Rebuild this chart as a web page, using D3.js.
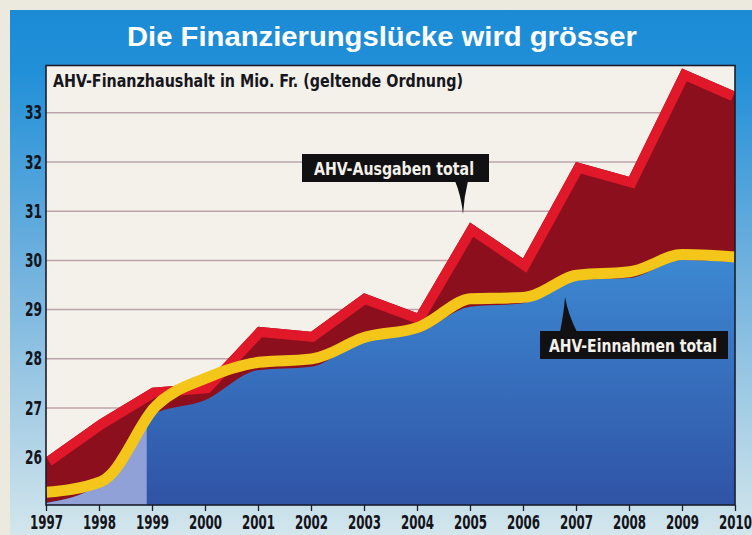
<!DOCTYPE html>
<html lang="de">
<head>
<meta charset="utf-8">
<title>Die Finanzierungslücke wird grösser</title>
<script src="https://cdn.jsdelivr.net/npm/d3@7"></script>
<style>
  html, body { margin: 0; padding: 0; background: #ece9df; }
  #chart { width: 752px; height: 535px; }
</style>
</head>
<body>
<div id="chart"></div>
<script>
// Jahre der x-Achse
const jahre = [1997, 1998, 1999, 2000, 2001, 2002, 2003, 2004, 2005, 2006, 2007, 2008, 2009, 2010];
// AHV-Ausgaben total (Oberkante rotes Band)
const ausgaben = [26.0, 26.76, 27.41, 27.5, 28.65, 28.55, 29.33, 28.93, 30.77, 30.04, 32.0, 31.7, 33.9, 33.43];
// AHV-Einnahmen total (Oberkante gelbes Band)
const einnahmen = [25.4, 25.61, 27.12, 27.72, 28.04, 28.11, 28.55, 28.75, 29.33, 29.36, 29.81, 29.88, 30.23, 30.18];
// Blaue Fläche unter dem gelben Band
const einnahmenFlaeche = [25.07, 25.44, 26.86, 27.16, 27.77, 27.84, 28.38, 28.52, 29.06, 29.13, 29.6, 29.64, 30.01, 29.97];
// hellere Fläche bis kurz vor 1999
const hellBisJahr = 1998.9;
// Beschriftungen der y-Achse
const yTicks = [26, 27, 28, 29, 30, 31, 32, 33];

const titel = "Die Finanzierungslücke wird grösser";
const untertitel = "AHV-Finanzhaushalt in Mio. Fr. (geltende Ordnung)";

const NARROW = '"Liberation Sans Narrow", "Arial Narrow", "DejaVu Sans Condensed", sans-serif';

const width = 752, height = 535;
const plot = { left: 46, right: 735, top: 65.5, bottom: 505 };

const svg = d3.select("#chart").append("svg")
    .attr("width", width)
    .attr("height", height);

const defs = svg.append("defs");

/**
 * Legt einen vertikalen Verlauf an.
 */
function verlauf(id, y1, y2, stops) {
    const g = defs.append("linearGradient")
        .attr("id", id)
        .attr("gradientUnits", "userSpaceOnUse")
        .attr("x1", 0).attr("x2", 0)
        .attr("y1", y1).attr("y2", y2);
    stops.forEach(s => g.append("stop").attr("offset", s[0]).attr("stop-color", s[1]));
}

verlauf("rahmen", 10, 535, [[0, "#1b8bd6"], [0.12, "#2290d8"], [0.5, "#72b2de"], [1, "#d3e6ec"]]);
verlauf("blau", 250, 505, [[0, "#3d8ad3"], [1, "#3053a6"]]);

const x = d3.scaleLinear([1997, 2010], [plot.left, plot.right]);
const y = d3.scaleLinear([25, 34], [506.5, 63.5]);

// Pfadgeneratoren
const linieAusgaben = d3.line().x((d, i) => x(jahre[i])).y(d => y(d));
const flaecheAusgaben = d3.area().x((d, i) => x(jahre[i])).y0(plot.bottom + 5).y1(d => y(d));
const linieEinnahmen = d3.line().curve(d3.curveMonotoneX).x((d, i) => x(jahre[i])).y(d => y(d));
const flaecheEinnahmen = d3.area().curve(d3.curveMonotoneX).x((d, i) => x(jahre[i])).y0(plot.bottom + 5).y1(d => y(d));

function clip(id, pfad) {
    defs.append("clipPath").attr("id", id).append("path").attr("d", pfad);
}
defs.append("clipPath").attr("id", "clip-plot").append("rect")
    .attr("x", plot.left).attr("y", plot.top)
    .attr("width", plot.right - plot.left).attr("height", plot.bottom - plot.top);
clip("clip-ausgaben", flaecheAusgaben(ausgaben));
clip("clip-einnahmen", flaecheEinnahmen(einnahmen));
clip("clip-flaeche", flaecheEinnahmen(einnahmenFlaeche));

////////////////////////////////////////////////////////////////////////////////
// Blauer Rahmen mit Titel
svg.append("rect")
    .attr("x", 10).attr("y", 10)
    .attr("width", width - 10).attr("height", height - 10)
    .attr("fill", "url(#rahmen)");

svg.append("text")
    .attr("x", 382).attr("y", 46)
    .attr("text-anchor", "middle")
    .attr("textLength", 510)
    .attr("lengthAdjust", "spacingAndGlyphs")
    .style("font", "bold 27px 'Liberation Sans', Arial, sans-serif")
    .attr("fill", "#ffffff")
    .text(titel);

////////////////////////////////////////////////////////////////////////////////
// Diagrammfläche
const g = svg.append("g").attr("clip-path", "url(#clip-plot)");

g.append("rect")
    .attr("x", plot.left).attr("y", plot.top)
    .attr("width", plot.right - plot.left).attr("height", plot.bottom - plot.top)
    .attr("fill", "#f3f1ea");

// Gitterlinien
g.selectAll(".grid")
    .data(yTicks)
    .enter().append("line")
    .attr("class", "grid")
    .attr("x1", plot.left).attr("x2", plot.right)
    .attr("y1", d => y(d)).attr("y2", d => y(d))
    .attr("stroke", "#bda4ab")
    .attr("stroke-width", 1.5);

// Ausgaben: dunkelrote Fläche mit hellrotem Band
g.append("path")
    .attr("d", flaecheAusgaben(ausgaben))
    .attr("fill", "#8c0f1d");

g.append("path")
    .attr("d", linieAusgaben(ausgaben))
    .attr("clip-path", "url(#clip-ausgaben)")
    .attr("fill", "none")
    .attr("stroke", "#e1172a")
    .attr("stroke-width", 20)
    .attr("stroke-linejoin", "miter");

// Einnahmen: blaue Fläche
g.append("path")
    .attr("d", flaecheEinnahmen(einnahmenFlaeche))
    .attr("fill", "url(#blau)");

g.append("rect")
    .attr("clip-path", "url(#clip-flaeche)")
    .attr("x", plot.left).attr("y", plot.top)
    .attr("width", x(hellBisJahr) - plot.left).attr("height", plot.bottom - plot.top)
    .attr("fill", "#8fa1d6");

// gelbes Band
g.append("path")
    .attr("d", linieEinnahmen(einnahmen))
    .attr("clip-path", "url(#clip-einnahmen)")
    .attr("fill", "none")
    .attr("stroke", "#f4c619")
    .attr("stroke-width", 22);

// Rahmen der Diagrammfläche
svg.append("rect")
    .attr("x", plot.left).attr("y", plot.top)
    .attr("width", plot.right - plot.left).attr("height", plot.bottom - plot.top)
    .attr("fill", "none")
    .attr("stroke", "#1b1d2b")
    .attr("stroke-width", 1.6);

svg.append("text")
    .attr("x", 53).attr("y", 87)
    .attr("textLength", 410)
    .attr("lengthAdjust", "spacingAndGlyphs")
    .style("font-family", NARROW)
    .style("font-weight", "bold")
    .style("font-size", "17px")
    .attr("fill", "#16161c")
    .text(untertitel);

////////////////////////////////////////////////////////////////////////////////
// Achsen
const yAxis = svg.append("g")
    .attr("transform", `translate(${plot.left},0)`)
    .call(d3.axisLeft(y).tickValues(yTicks).tickSize(0).tickPadding(4).tickFormat(d3.format("d")));
yAxis.select(".domain").remove();
yAxis.selectAll("text")
    .attr("textLength", 17)
    .attr("lengthAdjust", "spacingAndGlyphs")
    .style("font-family", NARROW)
    .style("font-weight", "bold")
    .style("font-size", "19px")
    .attr("fill", "#14141a");

const xAxis = svg.append("g")
    .attr("transform", `translate(0,${plot.bottom})`)
    .call(d3.axisBottom(x).tickValues(jahre).tickSize(6).tickPadding(4).tickFormat(d3.format("d")));
xAxis.select(".domain").remove();
xAxis.selectAll("line").attr("stroke", "#1b1d2b").attr("stroke-width", 1.3);
xAxis.selectAll("text")
    .attr("dy", "0.71em")
    .attr("textLength", 33)
    .attr("lengthAdjust", "spacingAndGlyphs")
    .style("font-family", NARROW)
    .style("font-weight", "bold")
    .style("font-size", "20px")
    .attr("fill", "#14141a");

////////////////////////////////////////////////////////////////////////////////
// Beschriftungen mit Zeigern
function beschriftung(box, text, textX, textLen, zeiger) {
    svg.append("path").attr("d", zeiger).attr("fill", "#111114");
    svg.append("rect")
        .attr("x", box[0]).attr("y", box[1])
        .attr("width", box[2]).attr("height", box[3])
        .attr("fill", "#111114");
    svg.append("text")
        .attr("x", textX).attr("y", box[1] + box[3] - 7)
        .attr("textLength", textLen)
        .attr("lengthAdjust", "spacingAndGlyphs")
        .style("font-family", NARROW)
        .style("font-weight", "bold")
        .style("font-size", "18px")
        .attr("fill", "#f4f1ea")
        .text(text);
}

beschriftung([302, 154, 187, 28], "AHV-Ausgaben total", 314, 160,
    "M455,181 Q461,195 463,214 Q464,197 468,181 Z");
beschriftung([540, 331, 188, 28], "AHV-Einnahmen total", 549, 168,
    "M560,332 Q564,312 565,297 Q568,314 577,332 Z");
</script>
</body>
</html>
